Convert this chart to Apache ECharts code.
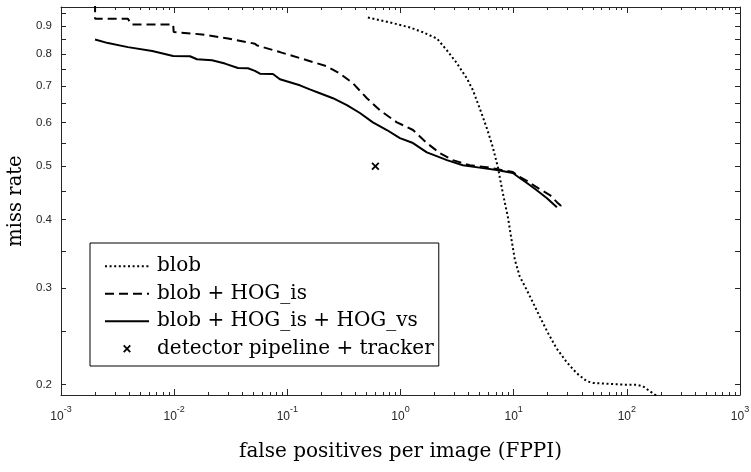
<!DOCTYPE html>
<html>
<head>
<meta charset="utf-8">
<script src="https://cdn.jsdelivr.net/npm/echarts@6/dist/echarts.min.js"></script>
<style>html,body{margin:0;padding:0;background:#fff}#c{width:751px;height:472px}</style>
</head>
<body>
<div id="c"></div>
<script>
// ---- data ----
const seriesNames = ['blob', 'blob + HOG_is', 'blob + HOG_is + HOG_vs', 'detector pipeline + tracker'];

const blobX = [0.515, 0.806, 1.21, 1.58, 2.10, 2.57, 3.15, 3.86, 4.36, 5.03, 5.80, 6.55, 7.25, 8.03, 8.89, 9.58, 10.25, 11.3, 13.0, 14.9, 17.0, 20.2, 23.9, 29.3, 35.9, 44.1, 50.4, 66.2, 92.8, 122, 139, 160, 183];
const blobY = [0.933, 0.914, 0.895, 0.877, 0.854, 0.813, 0.770, 0.7225, 0.688, 0.636, 0.586, 0.541, 0.498, 0.446, 0.404, 0.367, 0.3375, 0.315, 0.298, 0.2815, 0.266, 0.248, 0.233, 0.220, 0.210, 0.203, 0.2014, 0.2008, 0.200, 0.200, 0.1986, 0.1945, 0.191];

const isX = [0.002, 0.002, 0.0039, 0.0042, 0.0098, 0.0099, 0.0176, 0.0299, 0.0517, 0.0539, 0.086, 0.149, 0.224, 0.29, 0.38, 0.505, 0.658, 0.93, 1.29, 1.71, 2.23, 2.9, 4.1, 5.8, 7.1, 9.84, 11.3, 13.1, 17.0, 20.9, 24.1, 26.0, 28.3];
const isY = [0.99, 0.928, 0.928, 0.906, 0.906, 0.878, 0.869, 0.854, 0.836, 0.830, 0.807, 0.780, 0.760, 0.738, 0.708, 0.665, 0.632, 0.601, 0.582, 0.551, 0.528, 0.513, 0.502, 0.498, 0.494, 0.488, 0.478, 0.470, 0.454, 0.443, 0.430, 0.424, 0.428];

const vsX = [0.002, 0.0026, 0.0039, 0.0064, 0.0098, 0.0138, 0.0159, 0.0216, 0.0281, 0.0366, 0.0449, 0.0517, 0.0573, 0.0746, 0.086, 0.129, 0.158, 0.194, 0.253, 0.336, 0.438, 0.57, 0.758, 0.988, 1.29, 1.71, 2.23, 2.57, 3.56, 5.35, 7.1, 9.84, 11.3, 13.1, 16.0, 19.7, 24.1];
const vsY = [0.851, 0.838, 0.824, 0.811, 0.794, 0.793, 0.783, 0.780, 0.769, 0.755, 0.754, 0.746, 0.737, 0.736, 0.720, 0.702, 0.690, 0.679, 0.665, 0.646, 0.625, 0.601, 0.582, 0.5625, 0.551, 0.530, 0.519, 0.513, 0.502, 0.496, 0.492, 0.486, 0.476, 0.466, 0.452, 0.437, 0.421];

const trackerX = [0.6];
const trackerY = [0.5];

// ---- ticks ----
const xMajorTicks = [0.001, 0.01, 0.1, 1, 10, 100, 1000];
const xMajorExp = ['-3', '-2', '-1', '0', '1', '2', '3'];
const xMinorTicks = [];
for (let d = 0; d < 6; d++) for (let k = 2; k <= 9; k++) xMinorTicks.push(+(k * xMajorTicks[d]).toPrecision(3));
const yTicks = [0.2, 0.25, 0.3, 0.35, 0.4, 0.45, 0.5, 0.55, 0.6, 0.65, 0.7, 0.75, 0.8, 0.85, 0.9, 0.95];
const yLabels = [0.2, 0.3, 0.4, 0.5, 0.6, 0.7, 0.8, 0.9];

const pairs = (xs, ys) => xs.map((x, i) => [x, ys[i]]);
const AX = '#262626';
const SERIF = 'DejaVu Serif';
const SANS = 'Liberation Sans';
const crossPath = 'path://M-4,-4M14,14M0,1.6L1.6,0L5,3.4L8.4,0L10,1.6L6.6,5L10,8.4L8.4,10L5,6.6L1.6,10L0,8.4L3.4,5Z';

function xAxisDef(pos, minor, labels) {
  return {
    type: 'log', logBase: 10, min: 0.001, max: 1000, position: pos,
    axisLine: { show: !minor, onZero: false, lineStyle: { color: AX, width: 1 } },
    axisTick: { show: true, inside: true, length: minor ? 3 : 6, customValues: minor ? xMinorTicks : xMajorTicks, lineStyle: { color: AX, width: 1 } },
    minorTick: { show: false },
    splitLine: { show: false },
    axisLabel: labels ? {
      show: true, customValues: xMajorTicks, margin: 10, color: AX,
      formatter: function (v) {
        const i = xMajorTicks.findIndex(t => Math.abs(Math.log10(t) - Math.log10(v)) < 1e-6);
        return '{b|10}{s|' + xMajorExp[i] + '}';
      },
      rich: {
        b: { fontFamily: SANS, fontSize: 12, color: AX, lineHeight: 18, verticalAlign: 'bottom' },
        s: { fontFamily: SANS, fontSize: 9, color: AX, lineHeight: 10, verticalAlign: 'top' }
      }
    } : { show: false },
    name: labels ? 'false positives per image (FPPI)' : '',
    nameLocation: 'middle', nameGap: 47, nameMoveOverlap: false,
    nameTextStyle: { fontFamily: SERIF, fontSize: 20, color: '#000' }
  };
}
function yAxisDef(pos, labels) {
  return {
    type: 'log', logBase: 10, min: 0.1915, max: 0.975, position: pos,
    axisLine: { show: true, onZero: false, lineStyle: { color: AX, width: 1 } },
    axisTick: { show: true, inside: true, length: 5, customValues: yTicks, lineStyle: { color: AX, width: 1 } },
    minorTick: { show: false },
    splitLine: { show: false },
    axisLabel: labels ? {
      show: true, customValues: yLabels, margin: 9, color: AX, fontFamily: SANS, fontSize: 11.5,
      formatter: v => (+v).toFixed(1)
    } : { show: false },
    name: labels ? 'miss rate' : '',
    nameLocation: 'middle', nameGap: 35, nameMoveOverlap: false,
    nameTextStyle: { fontFamily: SERIF, fontSize: 19.5, color: '#000' }
  };
}

const chart = echarts.init(document.getElementById('c'), null, { renderer: 'canvas' });
chart.setOption({
  animation: false,
  backgroundColor: '#fff',
  grid: { left: 61, right: 11, top: 7, bottom: 77, containLabel: false, outerBoundsMode: 'none' },
  xAxis: [xAxisDef('bottom', false, true), xAxisDef('bottom', true, false), xAxisDef('top', false, false), xAxisDef('top', true, false)],
  yAxis: [yAxisDef('left', true), yAxisDef('right', false)],
  legend: {
    orient: 'vertical', left: 90, top: 243,
    itemWidth: 44, itemHeight: 14, itemGap: 7,
    padding: [13, 5, 7, 14],
    borderColor: '#000', borderWidth: 1, backgroundColor: '#fff',
    selectedMode: false,
    textStyle: { fontFamily: SERIF, fontSize: 20, color: '#000', lineHeight: 20.5, padding: [0, 0, 0, 3] },
    data: [
      { name: seriesNames[0], itemStyle: { opacity: 0 } },
      { name: seriesNames[1], itemStyle: { opacity: 0 } },
      { name: seriesNames[2], itemStyle: { opacity: 0 } },
      { name: seriesNames[3] }
    ]
  },
  series: [
    { name: seriesNames[0], type: 'line', data: pairs(blobX, blobY), symbol: 'none', clip: true,
      lineStyle: { color: '#000', width: 2, type: [2, 2.6] }, itemStyle: { color: '#000' } },
    { name: seriesNames[1], type: 'line', data: pairs(isX, isY), symbol: 'none', clip: true,
      lineStyle: { color: '#000', width: 2, type: [9, 5] }, itemStyle: { color: '#000' } },
    { name: seriesNames[2], type: 'line', data: pairs(vsX, vsY), symbol: 'none', clip: true,
      lineStyle: { color: '#000', width: 2, type: 'solid' }, itemStyle: { color: '#000' } },
    { name: seriesNames[3], type: 'scatter', data: pairs(trackerX, trackerY), symbol: crossPath, symbolSize: 14.4,
      itemStyle: { color: '#000', opacity: 1 } }
  ]
});
</script>
</body>
</html>
